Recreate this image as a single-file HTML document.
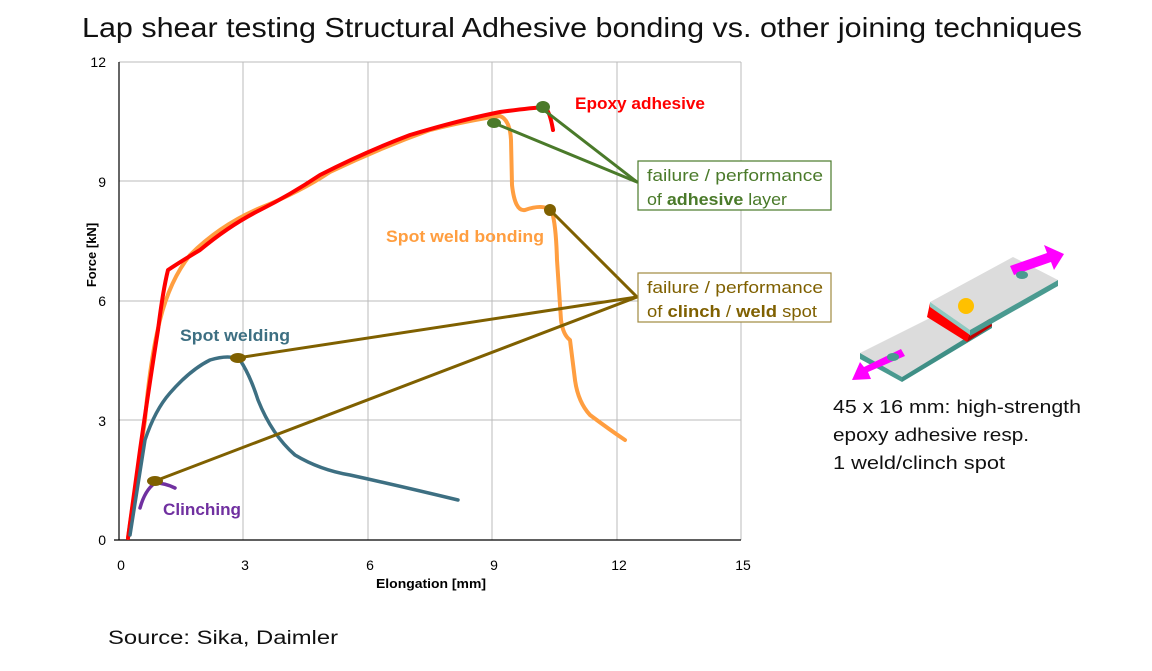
<!DOCTYPE html><html><head><style>body{margin:0;background:#fff}svg text{font-family:"Liberation Sans",sans-serif}</style></head><body>
<svg width="1152" height="666" viewBox="0 0 1152 666" xmlns="http://www.w3.org/2000/svg">
<text x="82" y="37" textLength="1000" lengthAdjust="spacingAndGlyphs" font-size="28" fill="#111">Lap shear testing Structural Adhesive bonding vs. other joining techniques</text>
<g stroke="#bbb" stroke-width="1">
<line x1="119" y1="62" x2="741" y2="62"/><line x1="741" y1="62" x2="741" y2="540"/>
<line x1="119" y1="181" x2="741" y2="181"/><line x1="119" y1="301" x2="741" y2="301"/><line x1="119" y1="420" x2="741" y2="420"/>
<line x1="243" y1="62" x2="243" y2="540"/><line x1="368" y1="62" x2="368" y2="540"/><line x1="492" y1="62" x2="492" y2="540"/><line x1="617" y1="62" x2="617" y2="540"/>
</g>
<g stroke="#000" stroke-width="1.2"><line x1="119" y1="62" x2="119" y2="540"/><line x1="114" y1="540" x2="741" y2="540"/></g>
<g font-size="14" fill="#000" text-anchor="middle">
<text x="121" y="570">0</text><text x="245" y="570">3</text><text x="370" y="570">6</text><text x="494" y="570">9</text><text x="619" y="570">12</text><text x="743" y="570">15</text>
<text x="431" y="588" font-size="13" font-weight="bold" textLength="110" lengthAdjust="spacingAndGlyphs">Elongation [mm]</text>
</g>
<g font-size="14" fill="#000" text-anchor="end">
<text x="106" y="545">0</text><text x="106" y="426">3</text><text x="106" y="306">6</text><text x="106" y="187">9</text><text x="106" y="67">12</text>
</g>
<text transform="translate(96,255) rotate(-90)" font-size="13" font-weight="bold" text-anchor="middle">Force [kN]</text>
<g fill="none" stroke-linecap="round" stroke-linejoin="round">
<path stroke="#ff9e40" stroke-width="4" d="M128,538 L145,420 Q150,360 160,320 Q170,280 190,255 Q220,225 260,208 Q300,192 330,172 Q380,148 430,130 Q470,120 500,116 Q510,120 511,140 L512,185 Q515,212 525,210 Q545,203 552,212 Q556,225 557,260 L561,320 Q563,335 570,340 L575,380 Q578,402 590,415 Q610,430 625,440"/>
<path stroke="#ff0000" stroke-width="4" d="M128,538 L140,450 Q150,380 158,330 Q163,290 168,270 Q180,262 200,250 Q230,225 260,210 Q290,195 320,175 Q365,152 410,135 Q460,120 500,112 Q530,108 545,107 Q550,112 553,130"/>
<path stroke="#3d6f82" stroke-width="3.5" d="M130,535 L145,440 Q155,410 170,393 Q190,370 210,360 Q230,354 240,360 Q250,375 258,400 Q272,435 295,455 Q320,470 350,475 Q400,486 458,500"/>
<path stroke="#7030a0" stroke-width="3.5" d="M140,508 Q145,490 155,483 Q165,483 175,488"/>
<g stroke="#4a7a2a" stroke-width="3"><line x1="540" y1="107" x2="637" y2="182"/><line x1="494" y1="123" x2="637" y2="182"/></g>
<g stroke="#7f6000" stroke-width="3"><line x1="550" y1="210" x2="637" y2="297"/><line x1="237" y1="358" x2="637" y2="297"/><line x1="155" y1="481" x2="637" y2="297"/></g>
</g>
<ellipse cx="543" cy="107" rx="7" ry="6" fill="#4a7a2a"/><ellipse cx="494" cy="123" rx="7" ry="5" fill="#4a7a2a"/>
<ellipse cx="550" cy="210" rx="6" ry="6" fill="#7f6000"/><ellipse cx="238" cy="358" rx="8" ry="5" fill="#7f6000"/><ellipse cx="155" cy="481" rx="8" ry="5" fill="#7f6000"/>
<g font-size="17" font-weight="bold">
<text x="575" y="109" fill="#ff0000" textLength="130" lengthAdjust="spacingAndGlyphs">Epoxy adhesive</text>
<text x="386" y="242" fill="#ff9e40" textLength="158" lengthAdjust="spacingAndGlyphs">Spot weld bonding</text>
<text x="180" y="341" fill="#3d6f82" textLength="110" lengthAdjust="spacingAndGlyphs">Spot welding</text>
<text x="163" y="515" fill="#7030a0" textLength="78" lengthAdjust="spacingAndGlyphs">Clinching</text>
</g>
<rect x="638" y="161" width="193" height="49" fill="#fff" stroke="#4a7a2a" stroke-width="1.2"/>
<text x="647" y="181" font-size="17" fill="#4a7a2a" textLength="176" lengthAdjust="spacingAndGlyphs">failure / performance</text>
<text x="647" y="205" font-size="17" fill="#4a7a2a" textLength="140" lengthAdjust="spacingAndGlyphs">of <tspan font-weight="bold">adhesive</tspan> layer</text>
<rect x="638" y="273" width="193" height="49" fill="#fff" stroke="#a08a40" stroke-width="1.2"/>
<text x="647" y="293" font-size="17" fill="#7f6000" textLength="176" lengthAdjust="spacingAndGlyphs">failure / performance</text>
<text x="647" y="317" font-size="17" fill="#7f6000" textLength="170" lengthAdjust="spacingAndGlyphs">of <tspan font-weight="bold">clinch</tspan> / <tspan font-weight="bold">weld</tspan> spot</text>
<!-- specimen -->
<polygon points="860,353 930,318 992,322 902,377" fill="#dcdcdc"/>
<polygon points="860,353 902,377 902,382 860,359" fill="#4a9a90"/>
<polygon points="902,377 992,322 992,328 902,382" fill="#3f8f86"/>
<polygon points="930,303 970,332 967,342 927,317" fill="#ff0000"/>
<polygon points="967,342 992,326 990,318 970,332" fill="#c00000"/>
<polygon points="930,302 1013,257 1058,280 970,330" fill="#dcdcdc"/>
<polygon points="930,302 970,330 970,335 930,307" fill="#8fc9c0"/>
<polygon points="970,330 1058,280 1058,286 970,336" fill="#4a9a90"/>
<circle cx="966" cy="306" r="8" fill="#ffc000"/>
<polygon points="1010,266 1047,253 1044,245 1064,254 1054,270 1051,262 1014,275" fill="#ff00ff"/>
<polygon points="905,356 868,372 871,379 852,380 860,362 864,367 901,349" fill="#ff00ff"/>
<ellipse cx="1022" cy="275" rx="6" ry="4" fill="#4a9a90"/><ellipse cx="893" cy="357" rx="6" ry="4" fill="#4a9a90"/>
<g font-size="18" fill="#111">
<text x="833" y="413" textLength="248" lengthAdjust="spacingAndGlyphs">45 x 16 mm: high-strength</text>
<text x="833" y="441" textLength="196" lengthAdjust="spacingAndGlyphs">epoxy adhesive resp.</text>
<text x="833" y="469" textLength="172" lengthAdjust="spacingAndGlyphs">1 weld/clinch spot</text>
</g>
<text x="108" y="644" font-size="19" fill="#111" textLength="230" lengthAdjust="spacingAndGlyphs">Source:  Sika, Daimler</text>
</svg></body></html>
